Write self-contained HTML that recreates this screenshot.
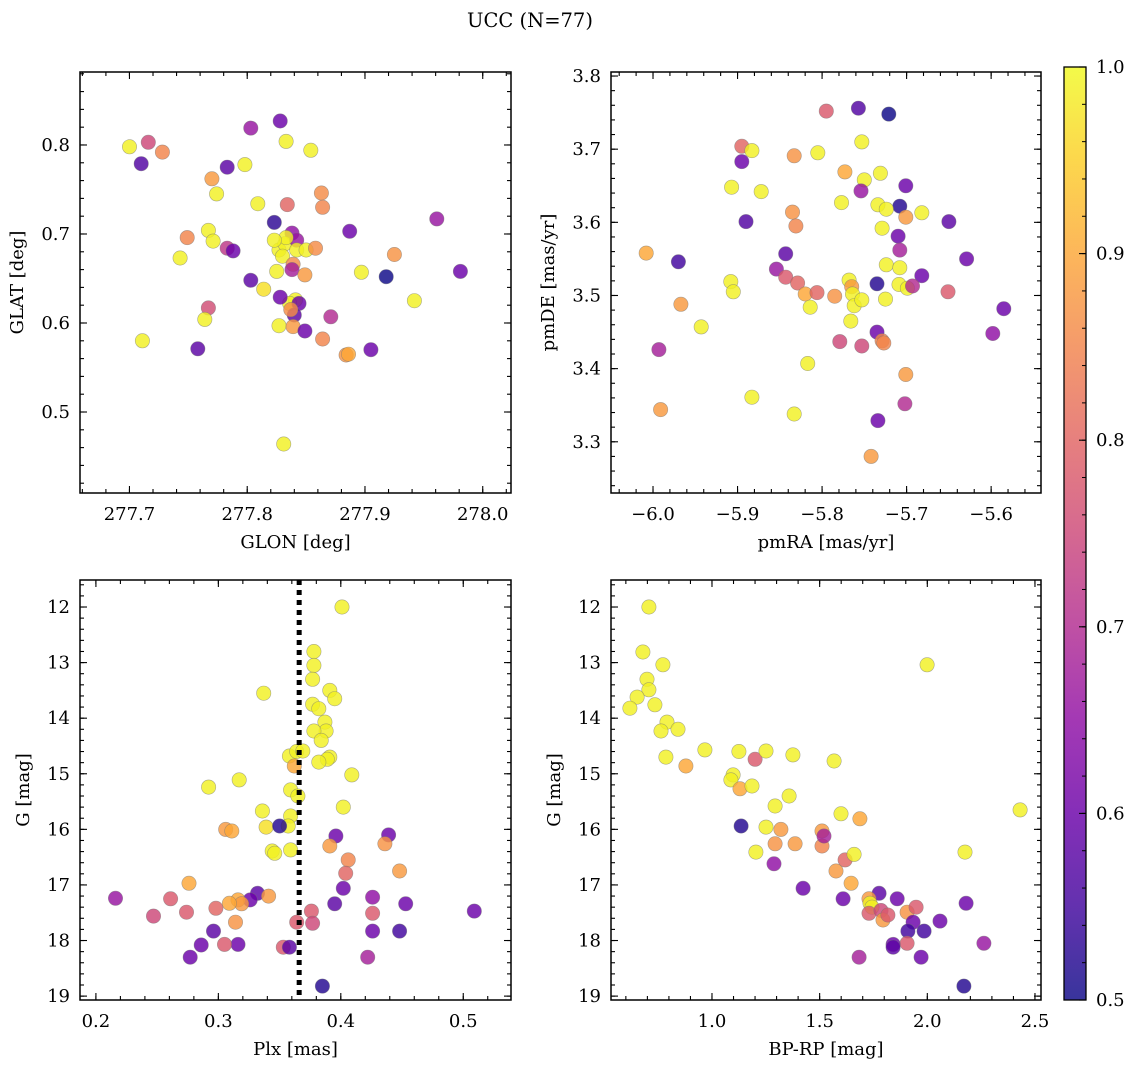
<!DOCTYPE html>
<html><head><meta charset="utf-8"><style>
html,body{margin:0;padding:0;background:#fff;}
svg{display:block;font-family:"DejaVu Serif","Liberation Serif",serif;}
</style></head><body>
<svg id="fig" width="1136" height="1067" viewBox="0 0 1136 1067" xmlns="http://www.w3.org/2000/svg">
<text x="530" y="27" font-size="19.5" text-anchor="middle">UCC (N=77)</text>
<defs>
<linearGradient id="plasma" x1="0" y1="1" x2="0" y2="0">
<stop offset="0" stop-color="#0d0887"/><stop offset="0.1" stop-color="#41049d"/><stop offset="0.2" stop-color="#6a00a8"/><stop offset="0.3" stop-color="#8f0da4"/><stop offset="0.4" stop-color="#b12a90"/><stop offset="0.5" stop-color="#cc4778"/><stop offset="0.6" stop-color="#e16462"/><stop offset="0.7" stop-color="#f2844b"/><stop offset="0.8" stop-color="#fca636"/><stop offset="0.9" stop-color="#fcce25"/><stop offset="1" stop-color="#f0f921"/>
</linearGradient>
</defs>
</svg>
<script>
// Panel 1: GLON vs GLAT
const glonVals=[277.700,277.716,277.728,277.710,277.803,277.828,277.833,277.854,277.783,277.798,277.770,277.774,277.863,277.809,277.864,277.823,277.834,277.838,277.887,277.961,277.767,277.771,277.749,277.783,277.788,277.743,277.803,277.814,277.827,277.832,277.830,277.842,277.842,277.850,277.858,277.839,277.838,277.825,277.849,277.897,277.925,277.981,277.918,277.841,277.836,277.844,277.840,277.828,277.767,277.764,277.827,277.839,277.849,277.864,277.871,277.711,277.758,277.884,277.886,277.905,277.942,277.831,277.833,277.837,277.823];
const glatVals=[0.798,0.803,0.792,0.779,0.819,0.827,0.804,0.794,0.775,0.778,0.762,0.745,0.746,0.734,0.730,0.713,0.733,0.701,0.703,0.717,0.704,0.692,0.696,0.684,0.681,0.673,0.648,0.638,0.682,0.689,0.675,0.693,0.682,0.682,0.684,0.666,0.660,0.658,0.654,0.657,0.677,0.658,0.652,0.626,0.622,0.622,0.609,0.629,0.617,0.604,0.597,0.596,0.591,0.582,0.607,0.580,0.571,0.564,0.565,0.570,0.625,0.464,0.696,0.615,0.693];
const probA=[.99,.75,.85,.57,.66,.60,.99,.99,.58,.99,.88,.99,.86,.99,.85,.53,.80,.65,.60,.66,.99,.99,.85,.72,.60,.99,.58,.97,.99,.99,.99,.66,.99,.99,.86,.86,.68,.99,.88,.99,.87,.60,.50,.99,.99,.60,.58,.60,.76,.99,.99,.88,.60,.85,.70,.99,.58,.87,.90,.60,.99,.99,.99,.86,.99];
// Panel 2: pmRA vs pmDE
const pmraVals=[-5.795,-5.757,-5.721,-5.753,-5.895,-5.883,-5.833,-5.895,-5.805,-5.773,-5.731,-5.750,-5.701,-5.907,-5.754,-5.872,-5.777,-5.734,-5.708,-5.724,-5.835,-5.682,-5.701,-5.890,-5.650,-5.831,-5.729,-5.710,-6.008,-5.970,-5.843,-5.708,-5.629,-5.854,-5.724,-5.708,-5.682,-5.843,-5.908,-5.829,-5.768,-5.905,-5.735,-5.709,-5.699,-5.693,-5.820,-5.806,-5.785,-5.765,-5.764,-5.762,-5.753,-5.725,-5.651,-5.814,-5.967,-5.585,-5.766,-5.943,-5.735,-5.598,-5.779,-5.753,-5.729,-5.727,-5.993,-5.817,-5.701,-5.883,-5.702,-5.991,-5.833,-5.734,-5.742];
const pmdeVals=[3.752,3.756,3.748,3.710,3.704,3.698,3.691,3.683,3.695,3.669,3.667,3.658,3.650,3.648,3.643,3.642,3.627,3.624,3.622,3.618,3.614,3.613,3.607,3.601,3.601,3.595,3.592,3.581,3.558,3.546,3.557,3.562,3.550,3.536,3.542,3.538,3.527,3.525,3.519,3.517,3.521,3.505,3.516,3.515,3.510,3.513,3.502,3.504,3.499,3.512,3.502,3.486,3.494,3.495,3.505,3.484,3.488,3.482,3.465,3.457,3.450,3.448,3.437,3.431,3.438,3.435,3.426,3.407,3.392,3.361,3.352,3.344,3.338,3.329,3.280];
const probB=[.78,.57,.50,.99,.80,.99,.87,.60,.99,.90,.99,.99,.60,.99,.66,.99,.99,.99,.52,.99,.87,.99,.88,.57,.58,.85,.99,.60,.90,.55,.58,.68,.60,.66,.99,.99,.60,.78,.99,.80,.99,.99,.52,.99,.99,.70,.90,.80,.87,.88,.99,.99,.99,.99,.78,.99,.88,.60,.99,.99,.60,.65,.75,.75,.85,.85,.68,.99,.88,.99,.70,.88,.99,.60,.88];
// Panel 3: Plx vs G
const plxVals=[0.401,0.378,0.378,0.377,0.337,0.391,0.395,0.377,0.382,0.387,0.388,0.378,0.384,0.391,0.358,0.364,0.369,0.389,0.362,0.382,0.409,0.317,0.292,0.359,0.365,0.336,0.402,0.359,0.339,0.357,0.350,0.306,0.311,0.396,0.439,0.391,0.436,0.359,0.344,0.346,0.406,0.404,0.448,0.276,0.402,0.216,0.332,0.326,0.316,0.319,0.341,0.309,0.261,0.298,0.395,0.453,0.426,0.426,0.274,0.247,0.376,0.509,0.314,0.364,0.377,0.426,0.448,0.296,0.286,0.316,0.305,0.353,0.358,0.277,0.422,0.385];
const gPlxVals=[12.0,12.8,13.05,13.3,13.55,13.5,13.65,13.75,13.83,14.07,14.23,14.23,14.4,14.7,14.68,14.6,14.59,14.74,14.86,14.79,15.02,15.11,15.24,15.29,15.4,15.67,15.6,15.76,15.96,15.94,15.94,16.0,16.03,16.12,16.1,16.3,16.26,16.37,16.39,16.43,16.55,16.79,16.75,16.97,17.06,17.24,17.15,17.27,17.27,17.34,17.2,17.33,17.25,17.42,17.34,17.34,17.22,17.51,17.49,17.56,17.47,17.47,17.67,17.67,17.69,17.83,17.83,17.83,18.08,18.07,18.07,18.12,18.12,18.3,18.3,18.82];
const probC=[.99,.99,.99,.99,.99,.99,.99,.99,.99,.99,.99,.99,.99,.99,.99,.99,.99,.99,.90,.99,.99,.99,.99,.99,.99,.99,.99,.99,.97,.99,.52,.88,.90,.60,.60,.88,.87,.99,.99,.99,.85,.80,.88,.90,.60,.66,.58,.60,.90,.88,.88,.90,.78,.80,.58,.60,.65,.78,.78,.75,.78,.60,.87,.78,.75,.60,.55,.58,.60,.60,.78,.78,.58,.60,.68,.52];
const plxRef=0.366;
// Panel 4: BP-RP vs G
const bprpVals=[0.707,0.679,0.698,0.772,0.707,0.652,0.619,0.735,0.791,0.763,0.842,0.786,0.967,0.879,1.999,1.200,1.125,1.251,1.376,1.567,1.098,1.088,1.130,1.186,1.358,1.293,2.431,1.135,1.251,1.320,1.386,1.293,1.204,1.511,1.511,1.520,1.599,1.687,1.618,1.660,2.175,1.576,1.646,1.288,1.423,1.609,1.776,1.729,1.734,1.743,1.729,1.785,1.860,1.794,1.817,1.906,1.948,1.934,2.059,2.180,1.910,1.985,1.906,1.841,1.841,2.263,1.683,1.971,2.170];
const gCmdVals=[12.0,12.81,13.3,13.04,13.49,13.62,13.82,13.76,14.07,14.23,14.2,14.7,14.57,14.86,13.04,14.74,14.6,14.59,14.66,14.77,15.02,15.11,15.27,15.22,15.4,15.58,15.65,15.94,15.96,16.0,16.26,16.26,16.41,16.03,16.3,16.12,15.72,15.81,16.55,16.45,16.41,16.75,16.97,16.62,17.06,17.25,17.15,17.25,17.33,17.4,17.51,17.46,17.25,17.63,17.54,17.49,17.4,17.67,17.65,17.33,17.83,17.83,18.05,18.07,18.12,18.05,18.3,18.3,18.82];
const probD=[.99,.99,.99,.99,.99,.99,.99,.99,.99,.99,.99,.99,.99,.90,.99,.78,.99,.99,.99,.99,.99,.99,.90,.99,.99,.99,.99,.52,.99,.88,.88,.87,.99,.88,.85,.68,.99,.90,.80,.99,.99,.88,.90,.65,.60,.60,.58,.88,.99,.99,.78,.75,.60,.88,.78,.87,.78,.60,.60,.60,.55,.55,.78,.60,.58,.66,.68,.60,.52];
const xTicksA=[277.7,277.8,277.9,278.0], yTicksA=[0.5,0.6,0.7,0.8];
const xTicksB=[-6.0,-5.9,-5.8,-5.7,-5.6], yTicksB=[3.3,3.4,3.5,3.6,3.7,3.8];
const xTicksC=[0.2,0.3,0.4,0.5], yTicksG=[12,13,14,15,16,17,18,19];
const xTicksD=[1.0,1.5,2.0,2.5];
const cbTicks=[0.5,0.6,0.7,0.8,0.9,1.0];

const NS="http://www.w3.org/2000/svg";
const svg=document.getElementById('fig');
const stops=[[13,8,135],[65,4,157],[106,0,168],[143,13,164],[177,42,144],[204,71,120],[225,100,98],[242,132,75],[252,166,54],[252,206,37],[240,249,33]];
function plasma(v){let t=Math.max(0,Math.min(1,(v-0.5)/0.5))*10;let i=Math.min(9,Math.floor(t)),f=t-i;const a=stops[i],b=stops[i+1];return 'rgb('+a.map((c,k)=>Math.round(c+(b[k]-c)*f)).join(',')+')';}
function mk(tag,attrs,parent){const e=document.createElementNS(NS,tag);for(const k in attrs)e.setAttribute(k,attrs[k]);(parent||svg).appendChild(e);return e;}
function fmt(v,d){return v<0?'\u2212'+Math.abs(v).toFixed(d):v.toFixed(d);}
const FS=18;

function panel(o){
  const g=mk('g',{});
  
  
  const sx=v=>o.x0+(v-o.xmin)/(o.xmax-o.xmin)*(o.x1-o.x0);
  const sy=o.invert?(v=>o.y0+(v-o.ymin)/(o.ymax-o.ymin)*(o.y1-o.y0)):(v=>o.y1-(v-o.ymin)/(o.ymax-o.ymin)*(o.y1-o.y0));
  const pts=mk('g',{},g);
  
  
  for(let i=0;i<o.xs.length;i++){
    const c=mk('circle',{cx:sx(o.xs[i]).toFixed(1),cy:sy(o.ys[i]).toFixed(1),r:7.2,fill:plasma(o.cs[i]),'fill-opacity':0.82,stroke:'#777','stroke-opacity':0.6,'stroke-width':0.6},pts);
    
    
  }
  if(o.vline!==undefined){
    const l=mk('line',{x1:sx(o.vline),x2:sx(o.vline),y1:o.y0,y2:o.y1,stroke:'#000','stroke-width':5,'stroke-dasharray':'5,5'},g);
    
    
  }
  const tk=mk('g',{stroke:'#000','stroke-width':1.1},g);
  
  
  for(let v=Math.ceil(o.xmin/o.xminor)*o.xminor;v<=o.xmax;v+=o.xminor){const x=sx(v);mk('line',{x1:x,x2:x,y1:o.y1,y2:o.y1-4},tk);mk('line',{x1:x,x2:x,y1:o.y0,y2:o.y0+4},tk);}
  for(let v=Math.ceil(o.ymin/o.yminor)*o.yminor;v<=o.ymax;v+=o.yminor){const y=sy(v);mk('line',{x1:o.x0,x2:o.x0+4,y1:y,y2:y},tk);mk('line',{x1:o.x1,x2:o.x1-4,y1:y,y2:y},tk);}
  o.xt.forEach(v=>{const x=sx(v);mk('line',{x1:x,x2:x,y1:o.y1,y2:o.y1-7},tk);mk('line',{x1:x,x2:x,y1:o.y0,y2:o.y0+7},tk);
    const t=mk('text',{x:x,y:o.y1+27,'font-size':FS,'text-anchor':'middle'},g);t.textContent=fmt(v,o.xd);
    });
  o.yt.forEach(v=>{const y=sy(v);mk('line',{x1:o.x0,x2:o.x0+7,y1:y,y2:y},tk);mk('line',{x1:o.x1,x2:o.x1-7,y1:y,y2:y},tk);
    const t=mk('text',{x:o.x0-10,y:y+6,'font-size':FS,'text-anchor':'end'},g);t.textContent=fmt(v,o.yd);
    });
  const fr=mk('rect',{x:o.x0,y:o.y0,width:o.x1-o.x0,height:o.y1-o.y0,fill:'none',stroke:'#000','stroke-width':1.5},g);
  
  const xl=mk('text',{x:(o.x0+o.x1)/2,y:o.y1+55,'font-size':FS,'text-anchor':'middle'},g);xl.textContent=o.xlabel;
  
  const yx=o.ylx,yy=(o.y0+o.y1)/2;
  const yl=mk('text',{x:yx,y:yy,'font-size':FS,'text-anchor':'middle',transform:'rotate(-90 '+yx+' '+yy+')'},g);yl.textContent=o.ylabel;
  
}

panel({name:'glon-glat-panel',x0:80,x1:511,y0:72,y1:493,xmin:277.658,xmax:278.024,ymin:0.409,ymax:0.882,xs:glonVals,ys:glatVals,cs:probA,xt:xTicksA,yt:yTicksA,xminor:0.02,yminor:0.02,xd:1,yd:1,xlabel:'GLON [deg]',ylabel:'GLAT [deg]',ylx:23});
panel({name:'pm-panel',x0:611,x1:1041,y0:72,y1:493,xmin:-6.0497,xmax:-5.541,ymin:3.230,ymax:3.8055,xs:pmraVals,ys:pmdeVals,cs:probB,xt:xTicksB,yt:yTicksB,xminor:0.02,yminor:0.02,xd:1,yd:1,xlabel:'pmRA [mas/yr]',ylabel:'pmDE [mas/yr]',ylx:554});
panel({name:'plx-g-panel',x0:80,x1:511,y0:580,y1:1000,xmin:0.187,xmax:0.539,ymin:11.514,ymax:19.07,invert:true,xs:plxVals,ys:gPlxVals,cs:probC,xt:xTicksC,yt:yTicksG,xminor:0.02,yminor:0.2,xd:1,yd:0,xlabel:'Plx [mas]',ylabel:'G [mag]',ylx:29,vline:plxRef});
panel({name:'cmd-panel',x0:611,x1:1041,y0:580,y1:1000,xmin:0.531,xmax:2.528,ymin:11.514,ymax:19.07,invert:true,xs:bprpVals,ys:gCmdVals,cs:probD,xt:xTicksD,yt:yTicksG,xminor:0.1,yminor:0.2,xd:1,yd:0,xlabel:'BP-RP [mag]',ylabel:'G [mag]',ylx:560});

const cb=mk('g',{});


const cy0=67,cy1=1000,cx0=1064,cx1=1086;
mk('rect',{x:cx0,y:cy0,width:cx1-cx0,height:cy1-cy0,fill:'url(#plasma)','fill-opacity':0.82,stroke:'#000','stroke-width':1.3},cb);
const cys=v=>cy1-(v-0.5)/0.5*(cy1-cy0);
for(let v=0.5;v<=1.0001;v+=0.02){mk('line',{x1:cx1,x2:cx1-4,y1:cys(v),y2:cys(v),stroke:'#000','stroke-width':1},cb);}
cbTicks.forEach(v=>{mk('line',{x1:cx1,x2:cx1-7,y1:cys(v),y2:cys(v),stroke:'#000','stroke-width':1.1},cb);
  const t=mk('text',{x:cx1+10,y:cys(v)+6,'font-size':FS},cb);t.textContent=v.toFixed(1);
  });
</script>
</body></html>
